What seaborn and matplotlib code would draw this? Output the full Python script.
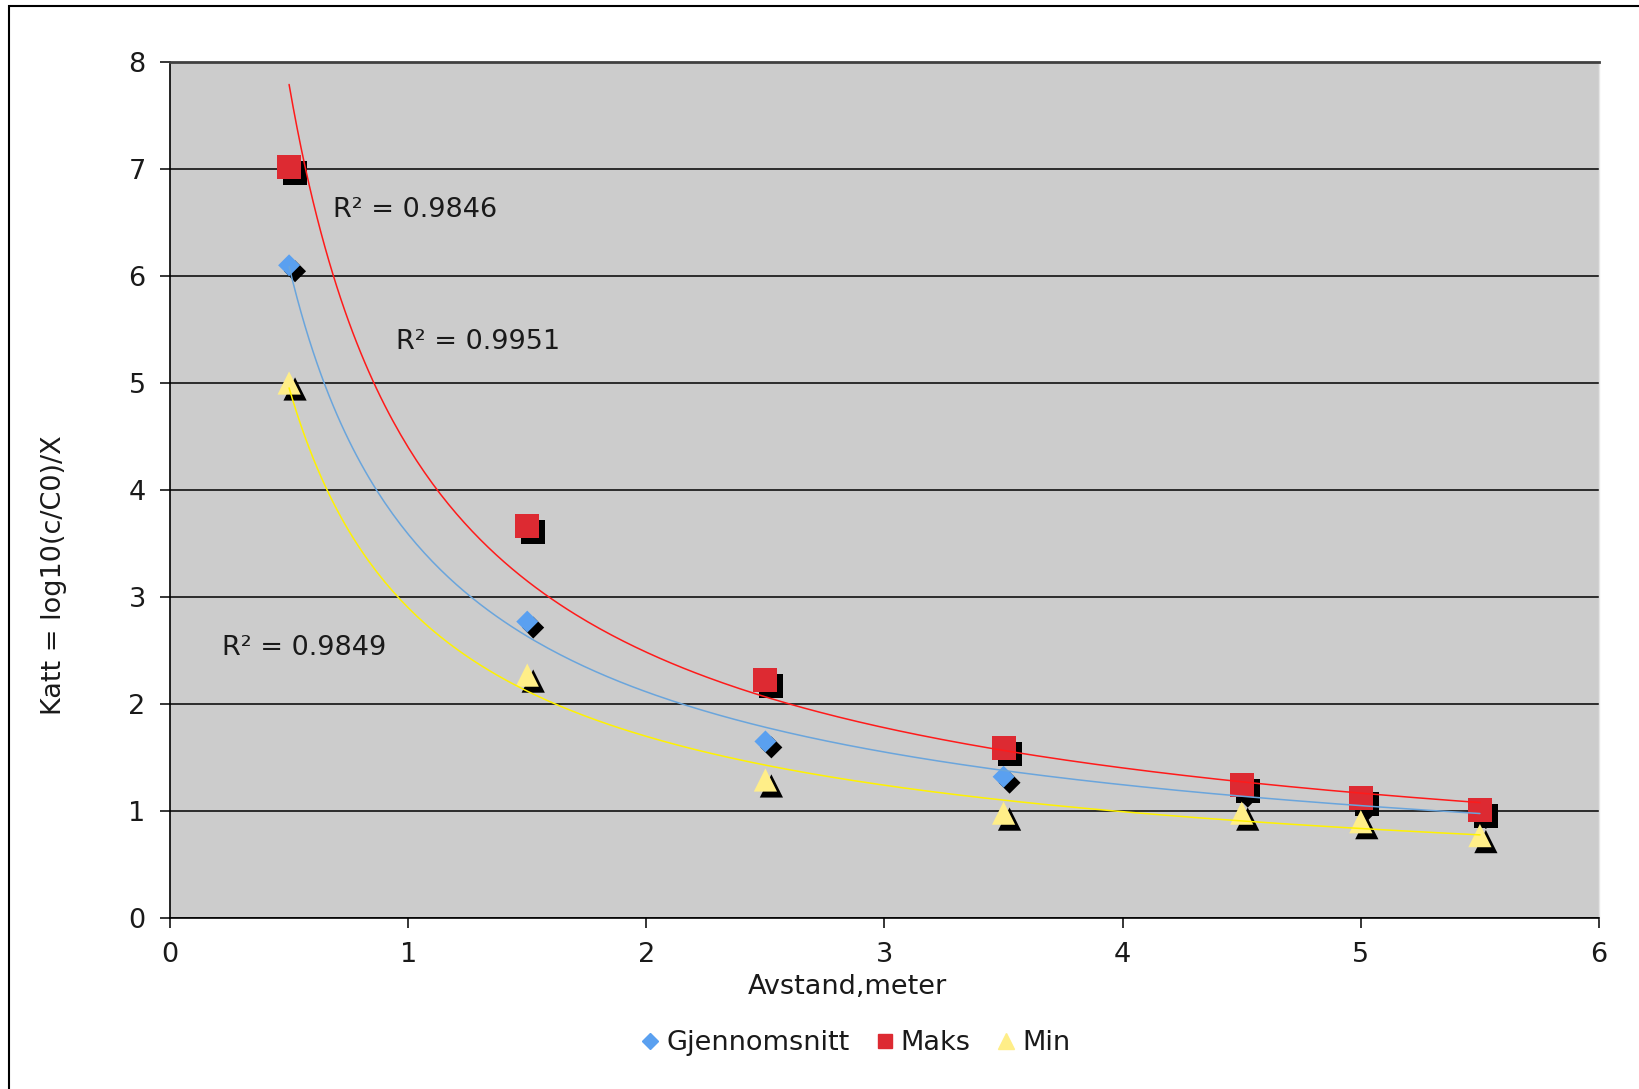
import numpy as np
import pandas as pd
import matplotlib
matplotlib.use("Agg")
import matplotlib.pyplot as plt
import matplotlib.patheffects as pe
from matplotlib.lines import Line2D
from matplotlib.patches import Rectangle
import seaborn as sns

# Measurements: attenuation versus distance
avstand = [0.5, 1.5, 2.5, 3.5, 4.5, 5.0, 5.5]
gjennomsnitt = [6.10, 2.77, 1.65, 1.32, 1.19, 1.06, 0.99]
maks = [7.02, 3.66, 2.22, 1.59, 1.24, 1.12, 1.01]
minimum = [5.00, 2.27, 1.29, 0.98, 0.98, 0.90, 0.77]

series_names = ["Gjennomsnitt", "Maks", "Min"]
r2_labels = ["R² = 0.9951", "R² = 0.9846", "R² = 0.9849"]
r2_pos = [(0.949, 5.38), (0.684, 6.62), (0.22, 2.52)]

marker_colors = ["#5AA0F0", "#DD2A32", "#FFEE88"]
line_colors = ["#6AA5DC", "#FF1A1A", "#FFF200"]
markers = ["D", "s", "^"]
sizes = [125, 300, 280]

FS = 19.5

df = pd.DataFrame({
    "Avstand": avstand * 3,
    "Katt": gjennomsnitt + maks + minimum,
    "Serie": sum([[n] * len(avstand) for n in series_names], []),
})

sns.set_theme(style="white")
plt.rcParams["font.family"] = ["DejaVu Sans"]

fig = plt.figure(figsize=(16.4, 10.89), dpi=100)
ax = fig.add_axes([170 / 1640, 1 - 918 / 1089, (1599 - 170) / 1640, (918 - 62) / 1089])
ax.set_facecolor("#CCCCCC")

shadow = [pe.SimplePatchShadow(offset=(4.3, -4.3), shadow_rgbFace="black", alpha=1.0),
          pe.Normal()]

# Markers with drop shadow
for name, col, mk, sz in zip(series_names, marker_colors, markers, sizes):
    sub = df[df["Serie"] == name]
    sns.scatterplot(data=sub, x="Avstand", y="Katt", color=col, marker=mk, s=sz,
                    linewidth=0, ax=ax, legend=False, zorder=3)
    ax.collections[-1].set_path_effects(shadow)

# Power-law trend lines (least squares in log-log space)
xs = np.linspace(min(avstand), max(avstand), 300)
for name, col in zip(series_names, line_colors):
    sub = df[df["Serie"] == name]
    b, lna = np.polyfit(np.log(sub["Avstand"]), np.log(sub["Katt"]), 1)
    sns.lineplot(x=xs, y=np.exp(lna) * xs ** b, color=col, lw=1.1, ax=ax, zorder=4)

for (tx, ty), lab in zip(r2_pos, r2_labels):
    ax.text(tx, ty, lab, fontsize=FS, color="#1a1a1a", ha="left", va="center", zorder=5)

ax.set_xlim(0, 6)
ax.set_ylim(0, 8)
ax.set_xticks(range(0, 7))
ax.set_yticks(range(0, 9))
ax.yaxis.grid(True, color="black", lw=1.1)
ax.xaxis.grid(False)
ax.set_axisbelow(True)

for side in ["left", "bottom"]:
    ax.spines[side].set_color("black")
    ax.spines[side].set_linewidth(1.2)
ax.spines["top"].set_color("#404040")
ax.spines["top"].set_linewidth(2.0)
ax.spines["right"].set_color("#E6E6E6")
ax.spines["right"].set_linewidth(1.0)

ax.tick_params(axis="both", direction="out", length=7.5, width=1.1, color="black",
               labelsize=FS, labelcolor="#1a1a1a", left=True, bottom=True)
ax.tick_params(axis="y", pad=10)
ax.tick_params(axis="x", pad=10)

ax.set_xlabel("Avstand,meter", fontsize=FS, color="#1a1a1a")
ax.set_ylabel("Katt = log10(c/C0)/X", fontsize=FS, color="#1a1a1a")
ax.xaxis.set_label_coords(0.474, -0.066)
ax.yaxis.set_label_coords(-0.072, 0.401)

handles = [Line2D([], [], marker=m, color=c, linestyle="none", markersize=ms)
           for m, c, ms in zip(markers, marker_colors, [8, 9.5, 11])]
fig.legend(handles, series_names, loc="center", bbox_to_anchor=(856 / 1640, 1 - 1043 / 1089),
           ncol=3, frameon=False, fontsize=FS, handlelength=0.6, handletextpad=0.3,
           columnspacing=1.0, labelcolor="#1a1a1a")

# Chart frame
fig.patches.append(Rectangle((8.5 / 1640, -0.1), 2.0, 1.1 - 5.5 / 1089,
                             transform=fig.transFigure, fill=False,
                             edgecolor="black", lw=1.5))

fig.savefig("out.png", dpi=100)
